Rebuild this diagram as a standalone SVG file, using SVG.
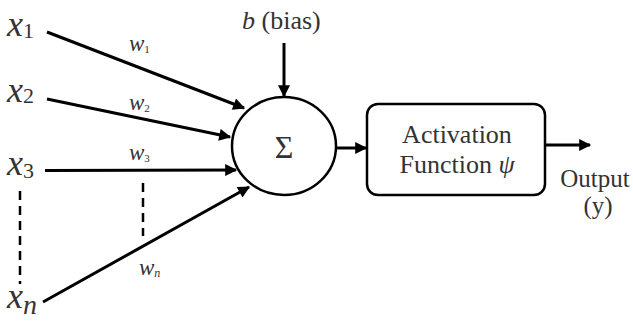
<svg xmlns="http://www.w3.org/2000/svg" width="633" height="321" viewBox="0 0 633 321">
<style>
.ln{stroke:#000;stroke-width:3;fill:none}
.dash{stroke:#000;stroke-width:2.5;stroke-dasharray:9,6;fill:none}
</style>
<defs>
<marker id="ah" viewBox="0 0 10 10" refX="9" refY="5" markerWidth="5" markerHeight="4" markerUnits="strokeWidth" orient="auto">
<path d="M0,0 L10,5 L0,10 z" fill="#000"/>
</marker>
</defs>
<rect width="633" height="321" fill="#fff"/>
<g id="inputs" fill="#333">
<text x="7" y="36" font-size="36" font-family="Liberation Serif" font-style="italic">x<tspan font-size="22" font-style="normal" dy="2">1</tspan></text>
<text x="7" y="102" font-size="36" font-family="Liberation Serif" font-style="italic">x<tspan font-size="22" font-style="normal" dy="1">2</tspan></text>
<text x="7" y="175" font-size="36" font-family="Liberation Serif" font-style="italic">x<tspan font-size="22" font-style="normal" dy="3">3</tspan></text>
<text x="7" y="308" font-size="36" font-family="Liberation Serif" font-style="italic">x<tspan font-size="28" dy="6">n</tspan></text>
</g>
<g id="weights" fill="#333">
<text x="129" y="51" font-size="23" font-family="Liberation Serif" font-style="italic">w<tspan font-size="11" font-style="normal" dy="2">1</tspan></text>
<text x="129" y="110" font-size="23" font-family="Liberation Serif" font-style="italic">w<tspan font-size="11" font-style="normal" dy="2">2</tspan></text>
<text x="129" y="160" font-size="23" font-family="Liberation Serif" font-style="italic">w<tspan font-size="11" font-style="normal" dy="2">3</tspan></text>
<text x="139" y="275" font-size="23" font-family="Liberation Serif" font-style="italic">w<tspan font-size="12" dy="2">n</tspan></text>
</g>
<g id="sum">
<ellipse cx="284" cy="146" rx="52" ry="49" fill="#fff" stroke="#000" stroke-width="2.5"/>
<text x="284" y="158" font-size="32" font-family="Liberation Serif" fill="#333" text-anchor="middle">Σ</text>
</g>
<g id="bias">
<text x="242" y="29" font-size="26" font-family="Liberation Serif" fill="#333"><tspan font-style="italic">b</tspan> (bias)</text>
</g>
<g id="activation">
<rect x="367" y="104" width="178" height="91" rx="11" fill="#fff" stroke="#000" stroke-width="2.5"/>
<text x="457" y="143" font-size="26" font-family="Liberation Serif" fill="#333" text-anchor="middle">Activation</text>
<text x="457" y="173" font-size="26" font-family="Liberation Serif" fill="#333" text-anchor="middle">Function <tspan font-style="italic">ψ</tspan></text>
</g>
<g id="output">
<text x="595" y="187" font-size="25" font-family="Liberation Serif" fill="#333" text-anchor="middle">Output</text>
<text x="598" y="214" font-size="25" font-family="Liberation Serif" fill="#333" text-anchor="middle">(y)</text>
</g>
<g id="connectors">
<line class="ln" x1="47" y1="32" x2="244" y2="108" marker-end="url(#ah)"/>
<line class="ln" x1="47" y1="99" x2="230" y2="137" marker-end="url(#ah)"/>
<line class="ln" x1="45" y1="170.5" x2="236" y2="170" marker-end="url(#ah)" stroke-width="3.5"/>
<line class="ln" x1="43" y1="302" x2="249" y2="187" marker-end="url(#ah)"/>
<line class="ln" x1="284" y1="43" x2="284" y2="96" marker-end="url(#ah)"/>
<line class="ln" x1="337" y1="148" x2="366" y2="148" marker-end="url(#ah)"/>
<line class="ln" x1="545" y1="145" x2="590" y2="145" marker-end="url(#ah)"/>
<line class="dash" x1="20" y1="191" x2="20" y2="284"/>
<line class="dash" x1="143" y1="183" x2="143" y2="236"/>
</g>
</svg>
